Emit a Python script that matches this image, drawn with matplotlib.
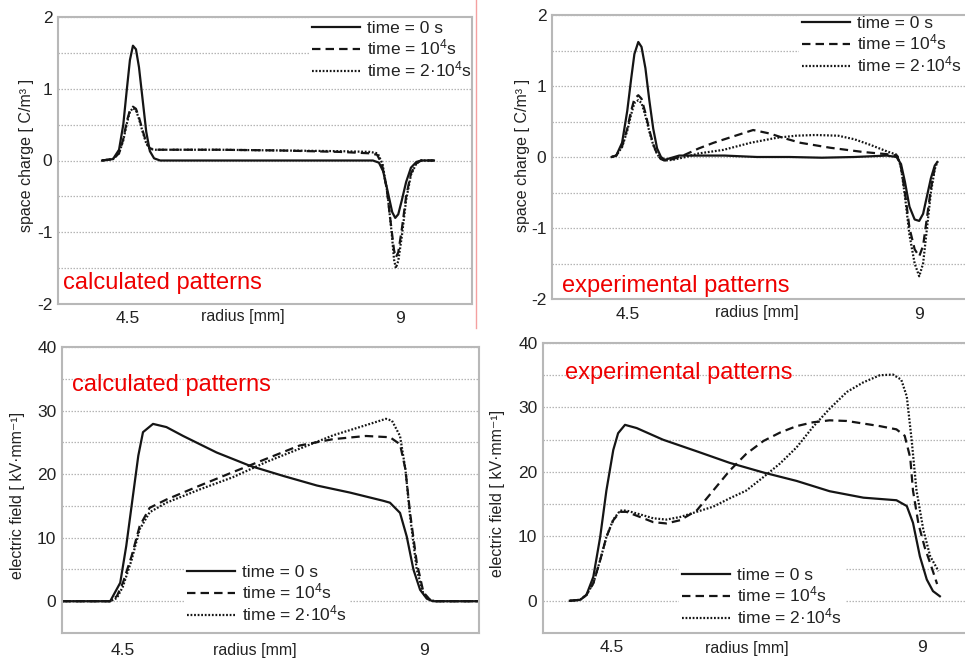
import numpy as np
import matplotlib
matplotlib.use("Agg")
import matplotlib.pyplot as plt

plt.rcParams['font.family'] = ['Liberation Sans', 'DejaVu Sans']
plt.rcParams['mathtext.default'] = 'regular'

W, H = 965, 659

# ---- space charge, calculated (top left) ----
sc_calc_r0 = [4.07, 4.25, 4.35, 4.42, 4.48, 4.53, 4.58, 4.63, 4.68, 4.74, 4.80, 4.86, 4.93, 5.03,
              6.5, 8.55, 8.65, 8.72, 8.80, 8.87, 8.92, 8.97, 9.03, 9.10, 9.18, 9.27, 9.35, 9.56]
sc_calc_v0 = [0, 0.02, 0.15, 0.5, 1.0, 1.4, 1.6, 1.55, 1.3, 0.85, 0.4, 0.13, 0.03, 0,
              0, 0, -0.03, -0.15, -0.45, -0.72, -0.8, -0.75, -0.55, -0.3, -0.1, -0.02, 0, 0]
sc_calc_r1 = [4.07, 4.25, 4.35, 4.42, 4.48, 4.53, 4.58, 4.63, 4.68, 4.74, 4.80, 4.86, 4.95,
              6.0, 7.0, 8.0, 8.5, 8.62, 8.70, 8.78, 8.85, 8.90, 8.93, 8.97, 9.03, 9.10, 9.18, 9.27, 9.35, 9.56]
sc_calc_v1 = [0, 0.02, 0.1, 0.3, 0.55, 0.7, 0.75, 0.72, 0.6, 0.42, 0.25, 0.17, 0.15,
              0.15, 0.14, 0.12, 0.1, 0.08, -0.05, -0.4, -0.9, -1.25, -1.35, -1.28, -0.95, -0.5, -0.18, -0.04, 0, 0]
sc_calc_r2 = [4.07, 4.25, 4.35, 4.42, 4.48, 4.53, 4.58, 4.63, 4.68, 4.74, 4.80, 4.86, 4.95,
              6.0, 7.0, 8.0, 8.5, 8.63, 8.71, 8.79, 8.86, 8.90, 8.93, 8.97, 9.03, 9.10, 9.18, 9.27, 9.35, 9.56]
sc_calc_v2 = [0, 0.02, 0.1, 0.28, 0.52, 0.68, 0.73, 0.7, 0.58, 0.4, 0.24, 0.16, 0.15,
              0.15, 0.14, 0.13, 0.12, 0.1, -0.05, -0.45, -1.0, -1.38, -1.5, -1.4, -1.05, -0.55, -0.2, -0.04, 0, 0]

# ---- space charge, experimental (top right) ----
sc_exp_r0 = [4.26, 4.33, 4.42, 4.50, 4.56, 4.61, 4.67, 4.72, 4.78, 4.84, 4.90, 4.96, 5.02, 5.08, 5.15,
             5.3, 6.0, 6.5, 7.0, 7.5, 8.0, 8.5, 8.65, 8.72, 8.78, 8.85, 8.93, 9.0, 9.06, 9.12, 9.18, 9.24, 9.28]
sc_exp_v0 = [0, 0.02, 0.2, 0.65, 1.1, 1.45, 1.62, 1.55, 1.25, 0.8, 0.4, 0.12, 0.0, -0.04, -0.02,
             0.02, 0.02, 0.0, 0.0, -0.01, 0.0, 0.02, 0.0, -0.1, -0.35, -0.7, -0.88, -0.9, -0.8, -0.55, -0.3, -0.12, -0.07]
sc_exp_r1 = [4.26, 4.33, 4.42, 4.50, 4.56, 4.61, 4.67, 4.72, 4.78, 4.84, 4.90, 4.96, 5.02, 5.08, 5.2,
             5.36, 5.6, 5.83, 6.1, 6.44, 6.7, 6.9, 7.17, 7.63, 8.14, 8.5, 8.66, 8.72, 8.78, 8.85, 8.93,
             9.0, 9.06, 9.12, 9.18, 9.24, 9.28]
sc_exp_v1 = [0, 0.02, 0.15, 0.4, 0.65, 0.82, 0.87, 0.82, 0.62, 0.38, 0.18, 0.04, -0.03, -0.05, -0.03,
             0.02, 0.12, 0.2, 0.28, 0.38, 0.33, 0.27, 0.2, 0.13, 0.07, 0.04, 0.02, -0.15, -0.5, -1.0, -1.3,
             -1.4, -1.25, -0.85, -0.45, -0.15, -0.07]
sc_exp_r2 = [4.26, 4.33, 4.42, 4.50, 4.56, 4.61, 4.67, 4.72, 4.78, 4.84, 4.90, 4.96, 5.02, 5.08, 5.2,
             5.4, 5.6, 5.98, 6.4, 6.8, 7.1, 7.4, 7.75, 8.0, 8.25, 8.5, 8.66, 8.72, 8.78, 8.85, 8.93,
             9.0, 9.06, 9.12, 9.18, 9.24, 9.28]
sc_exp_v2 = [0, 0.02, 0.14, 0.37, 0.6, 0.76, 0.8, 0.76, 0.58, 0.36, 0.17, 0.04, -0.03, -0.05, -0.04,
             0.0, 0.05, 0.1, 0.2, 0.27, 0.3, 0.31, 0.3, 0.25, 0.17, 0.08, 0.03, -0.15, -0.55, -1.1, -1.5,
             -1.68, -1.5, -1.0, -0.5, -0.17, -0.07]

# ---- electric field, calculated (bottom left) ----
ef_calc_r0 = [3.59, 4.31, 4.46, 4.55, 4.65, 4.73, 4.80, 4.95, 5.15, 5.4, 5.9, 6.4, 6.9, 7.4, 7.89,
              8.39, 8.49, 8.64, 8.74, 8.84, 8.94, 9.04, 9.13, 9.82]
ef_calc_v0 = [0, 0, 2.9, 8.7, 16.6, 22.9, 26.6, 27.9, 27.4, 26.0, 23.4, 21.3, 19.7, 18.2, 17.1,
              15.8, 15.5, 13.9, 10.2, 5.0, 1.8, 0.4, 0, 0]
ef_calc_r1 = [3.59, 4.31, 4.41, 4.5, 4.63, 4.75, 4.9, 5.15, 5.65, 6.14, 6.64, 7.14, 7.64, 8.13,
              8.49, 8.64, 8.72, 8.79, 8.89, 8.99, 9.09, 9.17, 9.82]
ef_calc_v1 = [0, 0, 0.8, 2.9, 7.1, 11.8, 14.7, 16.0, 18.2, 20.3, 22.4, 24.5, 25.5, 26.0,
              25.8, 24.7, 20.8, 13.9, 6.1, 1.4, 0.2, 0, 0]
ef_calc_r2 = [3.59, 4.31, 4.41, 4.5, 4.63, 4.75, 4.9, 5.15, 5.65, 6.14, 6.64, 7.14, 7.64, 8.13,
              8.43, 8.52, 8.64, 8.72, 8.79, 8.89, 8.99, 9.09, 9.17, 9.82]
ef_calc_v2 = [0, 0, 0.5, 2.3, 6.5, 11.3, 14.0, 15.5, 17.6, 19.5, 21.9, 24.0, 26.1, 27.7,
              28.7, 28.4, 26.0, 20.8, 13.4, 5.0, 1.1, 0.2, 0, 0]

# ---- electric field, experimental (bottom right) ----
ef_exp_r0 = [3.89, 4.04, 4.13, 4.23, 4.33, 4.42, 4.52, 4.59, 4.69, 4.86, 5.24, 5.73, 6.21, 6.70,
             7.18, 7.66, 8.15, 8.63, 8.78, 8.87, 8.97, 9.07, 9.16, 9.26]
ef_exp_v0 = [0, 0.15, 0.9, 3.7, 9.9, 17.1, 23.4, 26.0, 27.3, 26.8, 25.0, 23.2, 21.4, 19.9,
             18.6, 17.0, 16.0, 15.6, 14.7, 12.1, 6.9, 3.3, 1.5, 0.7]
ef_exp_r1 = [3.89, 4.04, 4.13, 4.23, 4.33, 4.42, 4.52, 4.62, 4.71, 4.91, 5.10, 5.29, 5.49, 5.73,
             5.97, 6.21, 6.45, 6.70, 6.94, 7.18, 7.42, 7.66, 7.91, 8.15, 8.39, 8.63, 8.75, 8.83,
             8.87, 8.95, 9.04, 9.14, 9.22]
ef_exp_v1 = [0, 0.15, 0.9, 2.7, 6.3, 9.9, 12.5, 13.8, 13.8, 13.0, 12.2, 12.0, 12.5, 14.0,
             17.1, 20.2, 22.8, 24.8, 26.1, 27.1, 27.7, 28.0, 27.9, 27.5, 27.1, 26.6, 25.6, 22.2,
             17.1, 11.9, 8.3, 5.2, 2.6]
ef_exp_r2 = [3.89, 4.04, 4.13, 4.23, 4.33, 4.42, 4.52, 4.62, 4.71, 4.91, 5.10, 5.29, 5.49, 5.73,
             5.97, 6.21, 6.45, 6.70, 6.94, 7.18, 7.42, 7.66, 7.91, 8.15, 8.39, 8.58, 8.70, 8.78,
             8.85, 8.92, 9.02, 9.12, 9.24]
ef_exp_v2 = [0, 0.15, 0.9, 2.7, 6.3, 9.9, 12.6, 14.0, 14.0, 13.4, 12.8, 12.6, 13.0, 13.8,
             14.6, 15.9, 17.1, 19.2, 21.3, 23.8, 27.0, 29.8, 32.4, 33.9, 35.0, 35.1, 34.3, 31.7,
             25.0, 17.2, 11.0, 6.9, 4.6]

legend_labels = ['time = 0 s', 'time = 10$^{4}$s', 'time = 2·10$^{4}$s']
x_ticks = [4.5, 9]
x_ticklabels = ['4.5', '9']

LINE_COL = '#151515'
LW = 1.6
styles = [dict(ls='-'), dict(dashes=(3.8, 2.3)), dict(dashes=(0.8, 0.8))]


def px_box(left, top, right, bottom):
    return [left / W, 1 - bottom / H, (right - left) / W, (bottom - top) / H]


def make_panel(fig, box, series, xlim, ylim, yticks, ylabels, ylab, ylab_xy,
               xlab_xy, red_text, red_xy, leg_xy, xpad):
    ax = fig.add_axes(px_box(*box))
    for (r, v), st in zip(series, styles):
        ax.plot(r, v, color=LINE_COL, lw=LW, **st)
    ax.set_xlim(*xlim)
    ax.set_ylim(*ylim)
    ax.set_xticks(x_ticks)
    ax.set_xticklabels(x_ticklabels)
    ax.set_yticks(yticks)
    ax.set_yticklabels(ylabels)
    ax.tick_params(length=0, labelsize=12.5, colors='#222222')
    ax.tick_params(axis='x', pad=xpad)
    ax.tick_params(axis='y', pad=4)
    ax.yaxis.grid(True, ls=(0, (1.2, 1.2)), color='#b5b5b5', lw=0.9)
    for s in ax.spines.values():
        s.set_color('#b8b8b8')
        s.set_linewidth(1.5)
        s.set_zorder(6)
    ax.set_axisbelow(True)

    fig.text(ylab_xy[0] / W, 1 - ylab_xy[1] / H, ylab, rotation=90,
             ha='center', va='center', fontsize=11.5, color='#222222')
    fig.text(xlab_xy[0] / W, 1 - xlab_xy[1] / H, 'radius [mm]',
             ha='center', va='center', fontsize=11.5, color='#222222')
    fig.text(red_xy[0] / W, 1 - red_xy[1] / H, red_text,
             ha='left', va='center', fontsize=17, color='#ee0000')

    leg = ax.legend(legend_labels, loc='upper left',
                    bbox_to_anchor=(leg_xy[0] / W, 1 - leg_xy[1] / H),
                    bbox_transform=fig.transFigure, fontsize=12.5,
                    frameon=True, facecolor='white', edgecolor='none',
                    framealpha=1, fancybox=False, borderpad=0.15,
                    handlelength=2.8, handletextpad=0.4, labelspacing=0.12,
                    borderaxespad=0)
    for t in leg.get_texts():
        t.set_color('#222222')
    return ax


fig = plt.figure(figsize=(W / 100, H / 100), dpi=100)

sc_ticks = [-2, -1.5, -1, -0.5, 0, 0.5, 1, 1.5, 2]
sc_labels = ['-2', '', '-1', '', '0', '', '1', '', '2']
ef_ticks = [-5, 0, 5, 10, 15, 20, 25, 30, 35, 40]
ef_labels = ['', '0', '', '10', '', '20', '', '30', '', '40']

make_panel(fig, (58, 17, 472, 304),
           [(sc_calc_r0, sc_calc_v0), (sc_calc_r1, sc_calc_v1), (sc_calc_r2, sc_calc_v2)],
           (3.34, 10.19), (-2, 2), sc_ticks, sc_labels,
           'space charge [ C/m³ ]', (27, 155), (243, 316),
           'calculated patterns', (63, 283), (309, 18), 5)

make_panel(fig, (552, 15, 975, 299),
           [(sc_exp_r0, sc_exp_v0), (sc_exp_r1, sc_exp_v1), (sc_exp_r2, sc_exp_v2)],
           (3.34, 9.86), (-2, 2), sc_ticks, sc_labels,
           'space charge [ C/m³ ]', (522, 155), (757, 313),
           'experimental patterns', (562, 286), (799, 13), 6)

make_panel(fig, (62, 347, 479, 633),
           [(ef_calc_r0, ef_calc_v0), (ef_calc_r1, ef_calc_v1), (ef_calc_r2, ef_calc_v2)],
           (3.59, 9.82), (-5, 40), ef_ticks, ef_labels,
           'electric field [ kV·mm⁻¹]', (18, 495), (255, 650),
           'calculated patterns', (72, 385), (184, 562), 7)

make_panel(fig, (543, 343, 975, 633),
           [(ef_exp_r0, ef_exp_v0), (ef_exp_r1, ef_exp_v1), (ef_exp_r2, ef_exp_v2)],
           (3.5, 9.77), (-5, 40), ef_ticks, ef_labels,
           'electric field [ kV·mm⁻¹]', (497, 493), (747, 648),
           'experimental patterns', (565, 373), (679, 565), 5)

fig.add_artist(plt.Line2D([476 / W, 476 / W], [1, 1 - 328 / H],
                          transform=fig.transFigure, color='#f4a0a0', lw=1))

fig.savefig('out.png', dpi=100)
